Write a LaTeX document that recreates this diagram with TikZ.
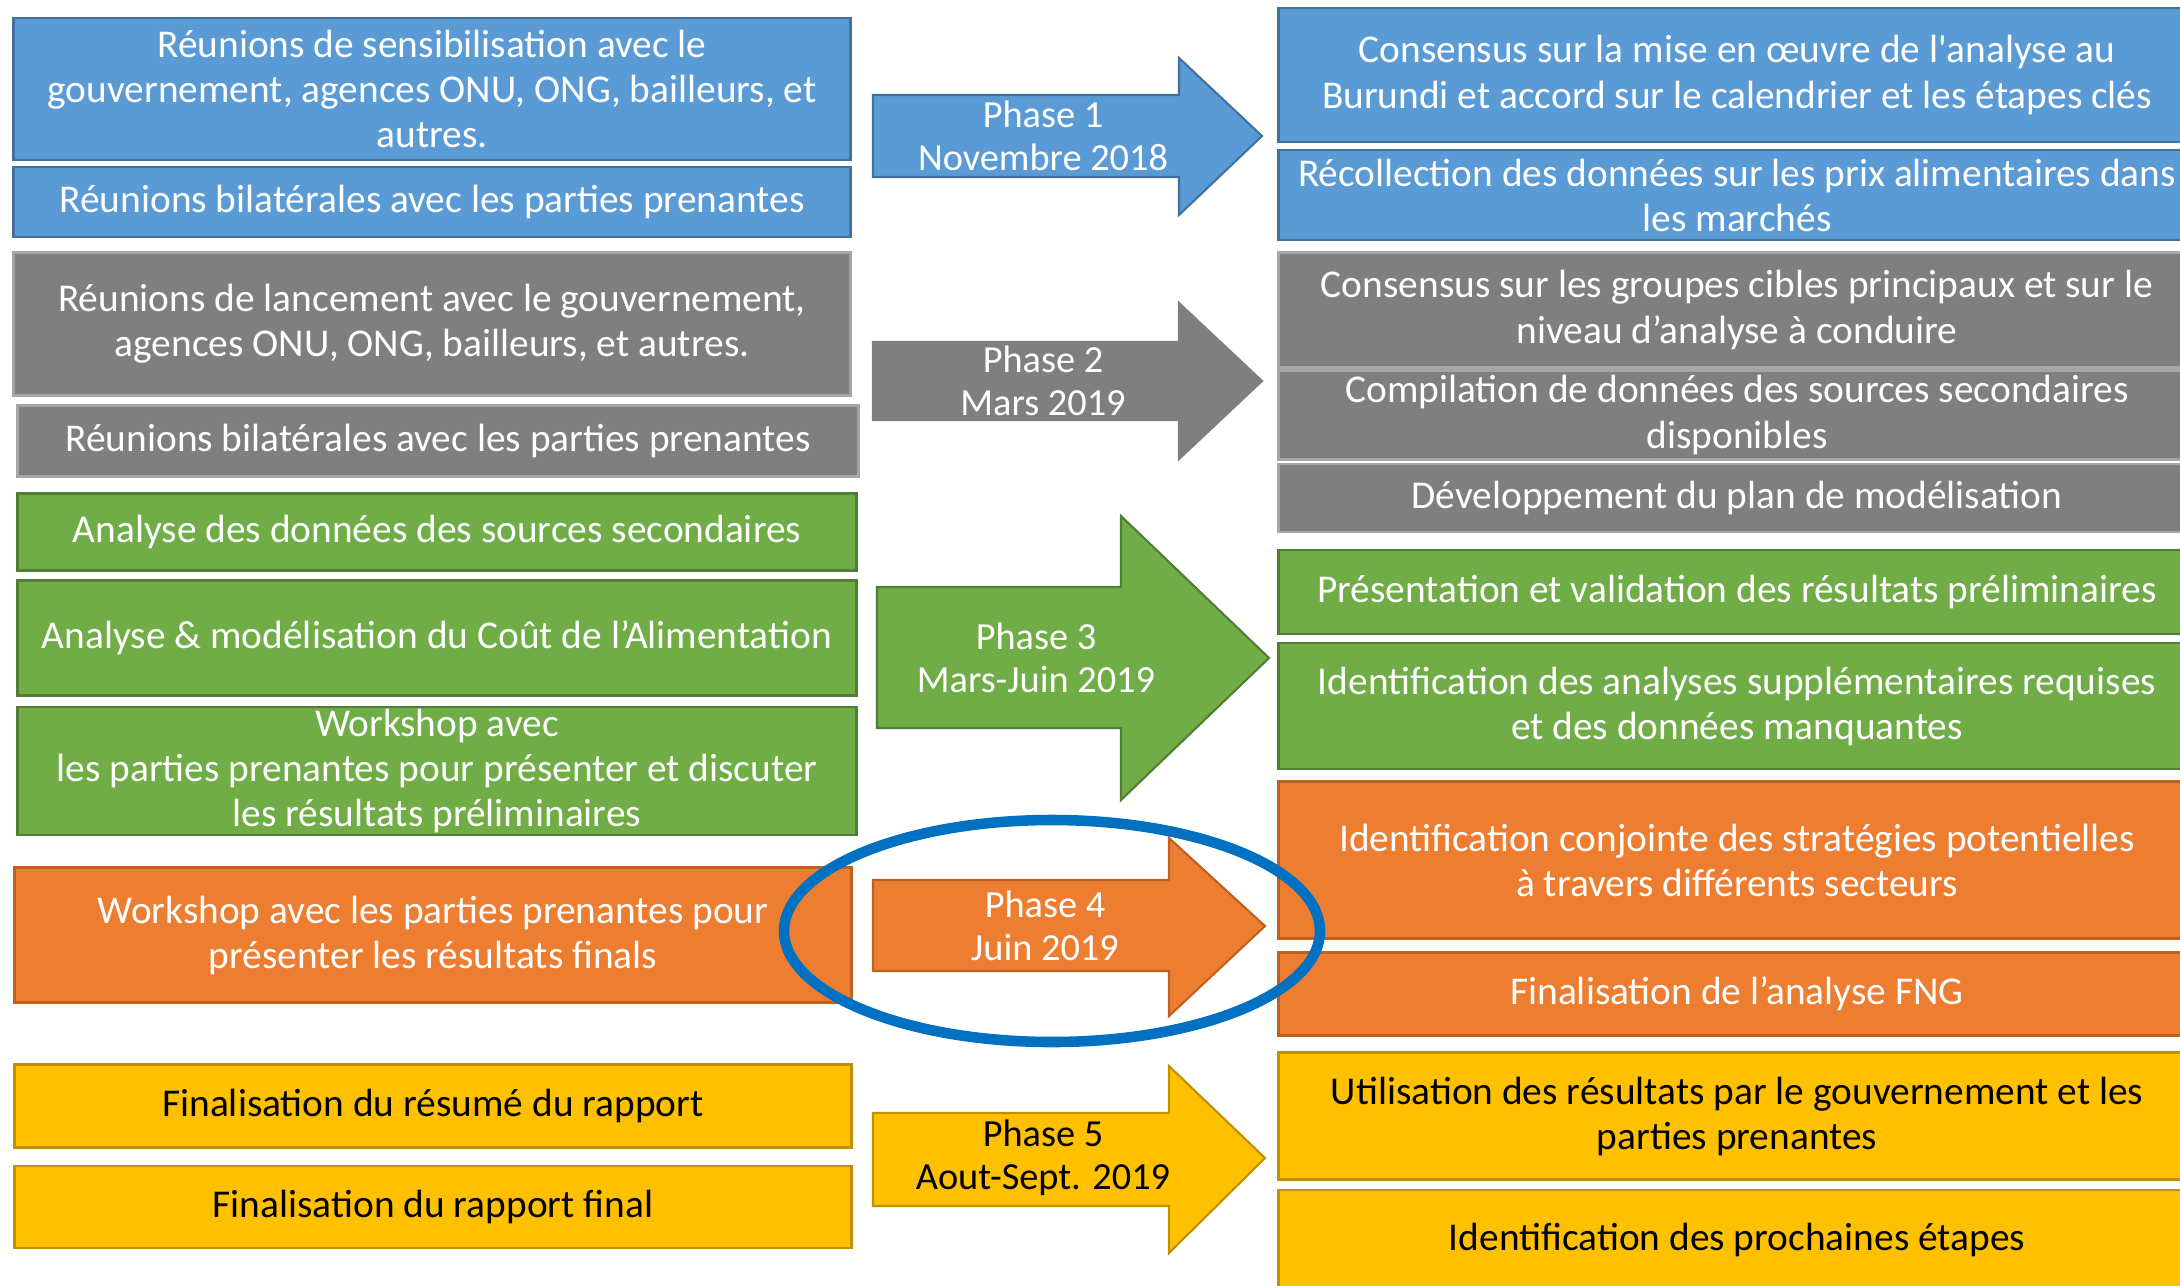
\documentclass[tikz,border=0pt]{standalone}
\usepackage{fontspec}
\newfontfamily\calibri{Carlito}

\definecolor{bleu}{HTML}{5B9BD5}
\definecolor{bleuB}{HTML}{41719C}
\definecolor{gris}{HTML}{7F7F7F}
\definecolor{grisB}{HTML}{A6A6A6}
\definecolor{vert}{HTML}{70AD47}
\definecolor{vertB}{HTML}{507E32}
\definecolor{orange}{HTML}{ED7D31}
\definecolor{orangeB}{HTML}{C0601F}
\definecolor{jaune}{HTML}{FFC000}
\definecolor{jauneB}{HTML}{BF9000}
\definecolor{cercle}{HTML}{0070C0}

\begin{document}
\begin{tikzpicture}[
  x=0.01cm, y=-0.01cm,
  etape/.style={
    draw, line width=0.8pt, inner sep=0pt,
    align=center, font=\calibri\fontsize{11.2}{12.8}\selectfont
  },
  gauche/.style={etape, minimum width=8.36cm},
  droite/.style={etape, minimum width=9.16cm},
  phase/.style={align=center, font=\calibri\fontsize{10.9}{12.2}\selectfont},
  bleu/.style={fill=bleu, draw=bleuB, text=white},
  gris/.style={fill=gris, draw=grisB, text=white},
  vert/.style={fill=vert, draw=vertB, text=white},
  orange/.style={fill=orange, draw=orangeB, text=white},
  jaune/.style={fill=jaune, draw=jauneB, text=black}
]
\useasboundingbox (0,0) rectangle (2180,1285);
\clip (0,0) rectangle (2180,1285);

% ================= PHASE 1 =================
\node[gauche, bleu, minimum height=1.42cm] (g1) at (432,89)
  {Réunions de sensibilisation avec le\\gouvernement, agences ONU, ONG, bailleurs, et\\autres.};
\node[gauche, bleu, minimum height=0.70cm] (g2) at (432,202)
  {Réunions bilatérales avec les parties prenantes};

\filldraw[bleu, line width=0.6pt]
(873,95) -- (1179,95) -- (1179,58) -- (1262,136) -- (1179,215) -- (1179,177) -- (873,177) -- cycle;
\node[phase, text=white] (p1) at (1043,136) {Phase 1\\Novembre 2018};

\node[droite, bleu, minimum height=1.34cm] (d1) at (1737,75)
  {Consensus sur la mise en œuvre de l'analyse au\\Burundi et accord sur le calendrier et les étapes clés};
\node[droite, bleu, minimum height=0.90cm] (d2) at (1737,195)
  {Récollection des données sur les prix alimentaires dans\\les marchés};

% ================= PHASE 2 =================
\node[gauche, gris, minimum height=1.43cm] (g3) at (432,324)
  {Réunions de lancement avec le gouvernement,\\agences ONU, ONG, bailleurs, et autres.};
\node[gauche, gris, minimum width=8.40cm, minimum height=0.71cm] (g4) at (438,441)
  {Réunions bilatérales avec les parties prenantes};

\filldraw[gris, draw=gris, line width=0.6pt]
(873,342) -- (1179,342) -- (1179,303) -- (1262,381) -- (1179,459) -- (1179,420) -- (873,420) -- cycle;
\node[phase, text=white] (p2) at (1043,381) {Phase 2\\Mars 2019};

\node[droite, gris, minimum height=1.15cm] (d3) at (1737,310)
  {Consensus sur les groupes cibles principaux et sur le\\niveau d’analyse à conduire};
\node[droite, gris, minimum height=0.89cm] (d4) at (1737,415)
  {Compilation de données des sources secondaires\\disponibles};
\node[droite, gris, minimum height=0.68cm] (d5) at (1737,498)
  {Développement du plan de modélisation};

% ================= PHASE 3 =================
\node[gauche, vert, minimum width=8.38cm, minimum height=0.77cm] (g5) at (437,532)
  {Analyse des données des sources secondaires};
\node[gauche, vert, minimum width=8.38cm, minimum height=1.15cm] (g6) at (437,638)
  {Analyse \& modélisation du Coût de l’Alimentation};
\node[gauche, vert, minimum width=8.38cm, minimum height=1.28cm] (g7) at (437,771)
  {Workshop avec\\les parties prenantes pour présenter et discuter\\les résultats préliminaires};

\filldraw[vert, line width=0.6pt]
(877,587) -- (1121,587) -- (1121,516) -- (1269,658) -- (1121,800) -- (1121,728) -- (877,728) -- cycle;
\node[phase, text=white] (p3) at (1036,658) {Phase 3\\Mars-Juin 2019};

\node[droite, vert, minimum height=0.84cm] (d6) at (1737,592)
  {Présentation et validation des résultats préliminaires};
\node[droite, vert, minimum height=1.26cm] (d7) at (1737,706)
  {Identification des analyses supplémentaires requises\\et des données manquantes};

% ================= PHASE 4 =================
\node[gauche, orange, minimum height=1.35cm] (g8) at (433,935)
  {Workshop avec les parties prenantes pour\\présenter les résultats finals};

\filldraw[orange, line width=0.6pt]
(873,880) -- (1169,880) -- (1169,838) -- (1265,926) -- (1169,1016) -- (1169,971) -- (873,971) -- cycle;
\node[phase, text=white] (p4) at (1045,926) {Phase 4\\Juin 2019};

\node[droite, orange, minimum height=1.57cm] (d8) at (1737,860)
  {Identification conjointe des stratégies potentielles\\à travers différents secteurs};
\node[droite, orange, minimum height=0.83cm] (d9) at (1737,994)
  {Finalisation de l’analyse FNG};

% ================= PHASE 5 =================
\node[gauche, jaune, minimum height=0.83cm] (g9) at (433,1106)
  {Finalisation du résumé du rapport};
\node[gauche, jaune, minimum height=0.82cm] (g10) at (433,1207)
  {Finalisation du rapport final};

\filldraw[jaune, line width=0.6pt]
(873,1113) -- (1169,1113) -- (1169,1066) -- (1265,1158) -- (1169,1253) -- (1169,1206) -- (873,1206) -- cycle;
\node[phase, text=black] (p5) at (1043,1158) {Phase 5\\Aout-Sept. 2019};

\node[droite, jaune, minimum height=1.27cm] (d10) at (1737,1116)
  {Utilisation des résultats par le gouvernement et les\\parties prenantes};
\node[droite, jaune, minimum height=1.00cm] (d11) at (1737,1240)
  {Identification des prochaines étapes};

% ================= CERCLE =================
\draw[cercle, line width=3pt] (1052,931) ellipse [x radius=268, y radius=111];

\end{tikzpicture}
\end{document}
